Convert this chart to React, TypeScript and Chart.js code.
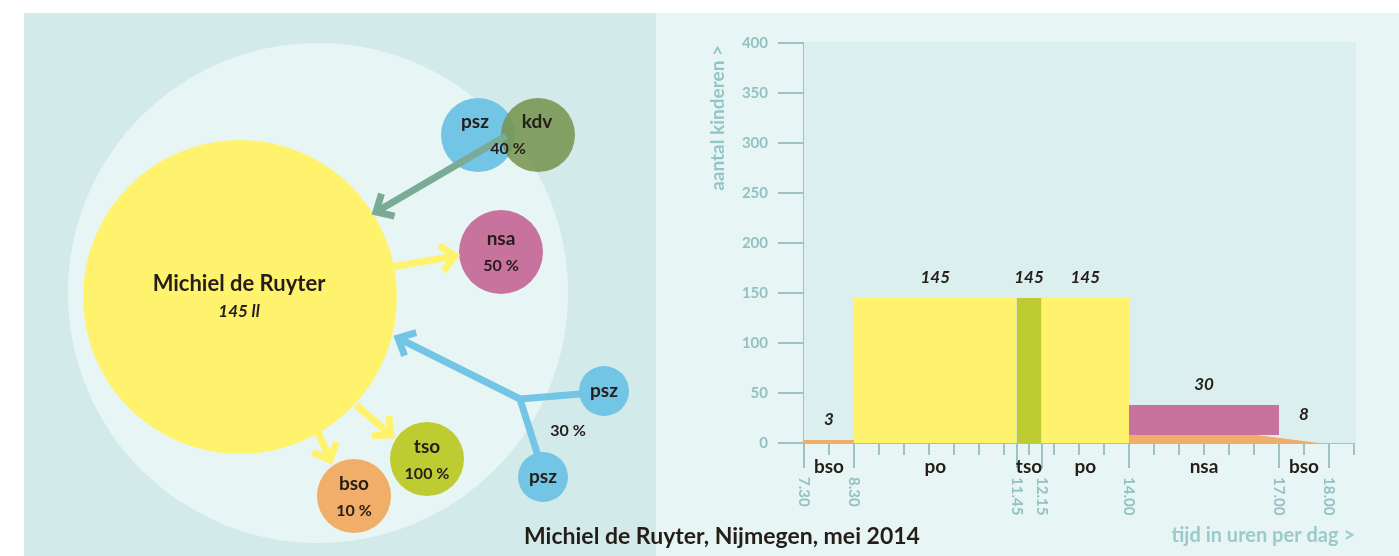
import React, { useEffect, useRef } from "react";
import { Chart, registerables } from "chart.js";
Chart.register(...registerables);

const FONT = "Lato, 'Open Sans', 'DejaVu Sans', sans-serif";
const INK = "#241d18";
const AXIS = "#9cc4c4";
const TICKTEXT = "#93c1c1";
const YELLOW = "#fff36e";
const GREEN = "#bfcc31";
const PINK = "#c8739e";
const ORANGE = "#f0ae68";
const BLUE = "#72c5e4";
const KDV = "rgba(118,148,78,0.86)";
const ARROWGREEN = "#7aab97";

// ---------- right chart data ----------
const segmentNames = ["bso", "po", "tso", "po", "nsa", "bso"];
const segmentStart = [7.5, 8.5, 11.75, 12.25, 14, 17];
const segmentEnd = [8.5, 11.75, 12.25, 14, 17, 18];
const timeTickValues = [7.5, 8.5, 11.75, 12.25, 14, 17, 18];
const timeTickLabels = ["7.30", "8.30", "11.45", "12.15", "14.00", "17.00", "18.00"];

const bsoMorningTimes = [7.5, 8.5];
const bsoMorningCounts = [3, 3];
const poMorningTimes = [8.5, 11.75];
const poMorningCounts = [145, 145];
const tsoTimes = [11.75, 12.25];
const tsoCounts = [145, 145];
const poAfternoonTimes = [12.25, 14];
const poAfternoonCounts = [145, 145];
const bsoAfternoonTimes = [14, 16.55, 17.8];
const bsoAfternoonCounts = [8, 8, 0];
const nsaTimes = [14, 17];
const nsaTop = [38, 38];
const nsaBase = 8;

const valueLabelTexts = ["3", "145", "145", "145", "30", "8"];
const valueLabelTimes = [8, 10.125, 12, 13.125, 15.5, 17.5];
const valueLabelTops = [3, 145, 145, 145, 38, 8];

// ---------- left diagram data (page pixel space) ----------
const nodeNames = ["campus", "school", "psz1", "kdv", "nsa", "pszR", "pszB", "tso", "bso"];
const nodeX = [318, 240, 478, 538, 501, 604, 543, 427, 354];
const nodeY = [293, 297, 135, 135, 252, 391, 477, 459, 496];
const nodeR = [250, 157, 37, 37, 42, 25, 25, 37, 37];
const nodeColors = ["#e8f5f5", YELLOW, BLUE, KDV, PINK, BLUE, BLUE, GREEN, ORANGE];

const linkFromX = [520, 520, 520, 506, 392, 356, 318];
const linkFromY = [399, 399, 399, 136, 267, 405, 432];
const linkToX = [580, 538, 398, 376, 455, 391, 330];
const linkToY = [394, 456, 338, 212, 256, 435, 460];
const linkColors = [BLUE, BLUE, BLUE, ARROWGREEN, YELLOW, YELLOW, YELLOW];
const linkHeads = [false, false, true, true, true, true, true];

const textLabels = ["Michiel de Ruyter", "145 ll", "psz", "kdv", "40 %", "nsa", "50 %", "psz", "psz", "30 %", "tso", "100 %", "bso", "10 %"];
const textX = [239, 239, 475, 537, 508, 501, 501, 604, 543, 568, 427, 427, 354, 354];
const textY = [284, 312, 122, 122, 149, 239, 266, 391, 477, 431, 447, 474, 484, 511];
const textStyles = ["title", "sub", "name", "name", "pct", "name", "pct", "name", "name", "pct", "name", "pct", "name", "pct"];

const pts = (xs: number[], ys: number[]) => xs.map((x, i) => ({ x, y: ys[i] }));

export default function App() {
  const leftRef = useRef<HTMLCanvasElement>(null);
  const rightRef = useRef<HTMLCanvasElement>(null);

  useEffect(() => {
    const fontFor = (s: string) =>
      s === "title" ? `bold 22px ${FONT}` : s === "sub" ? `italic bold 17px ${FONT}` : s === "name" ? `bold 19px ${FONT}` : `bold 16px ${FONT}`;

    const leftPlugin = {
      id: "diagram",
      afterDatasetsDraw(chart: any) {
        const { ctx } = chart;
        const xs = chart.scales.x;
        const ys = chart.scales.y;
        ctx.save();
        ctx.lineWidth = 7;
        ctx.lineCap = "butt";
        ctx.lineJoin = "miter";
        linkFromX.forEach((_, i) => {
          const x1 = xs.getPixelForValue(linkFromX[i]);
          const y1 = ys.getPixelForValue(linkFromY[i]);
          const x2 = xs.getPixelForValue(linkToX[i]);
          const y2 = ys.getPixelForValue(linkToY[i]);
          ctx.strokeStyle = linkColors[i];
          ctx.beginPath();
          ctx.moveTo(x1, y1);
          ctx.lineTo(x2, y2);
          ctx.stroke();
          if (linkHeads[i]) {
            const ang = Math.atan2(y1 - y2, x1 - x2);
            const L = 19;
            const spread = 0.75;
            ctx.beginPath();
            ctx.moveTo(x2 + L * Math.cos(ang + spread), y2 + L * Math.sin(ang + spread));
            ctx.lineTo(x2, y2);
            ctx.lineTo(x2 + L * Math.cos(ang - spread), y2 + L * Math.sin(ang - spread));
            ctx.stroke();
          }
        });
        ctx.fillStyle = INK;
        ctx.textAlign = "center";
        ctx.textBaseline = "middle";
        textLabels.forEach((t, i) => {
          ctx.font = fontFor(textStyles[i]);
          ctx.fillText(t, xs.getPixelForValue(textX[i]), ys.getPixelForValue(textY[i]));
        });
        ctx.restore();
      },
    };

    const left = new Chart(leftRef.current!, {
      type: "bubble",
      data: {
        labels: nodeNames,
        datasets: [
          {
            data: nodeX.map((x, i) => ({ x, y: nodeY[i], r: nodeR[i] })),
            backgroundColor: nodeColors,
            borderWidth: 0,
            clip: false as any,
          },
        ],
      },
      options: {
        responsive: false,
        animation: false,
        events: [],
        layout: { padding: 0, autoPadding: false } as any,
        plugins: { legend: { display: false }, tooltip: { enabled: false } },
        scales: {
          x: { type: "linear", display: false, min: 24, max: 656 },
          y: { type: "linear", display: false, min: 13, max: 556, reverse: true },
        },
      },
      plugins: [leftPlugin],
    });

    const rightPlugin = {
      id: "timeline",
      beforeDatasetsDraw(chart: any) {
        const { ctx, chartArea } = chart;
        ctx.save();
        ctx.fillStyle = "#dcefef";
        ctx.fillRect(chartArea.left, chartArea.top - 1, chartArea.right - chartArea.left + 2, chartArea.bottom - chartArea.top + 1);
        ctx.restore();
      },
      afterDraw(chart: any) {
        const { ctx, chartArea } = chart;
        const xs = chart.scales.x;
        const ys = chart.scales.y;
        const base = ys.getPixelForValue(0);
        ctx.save();
        ctx.strokeStyle = AXIS;
        ctx.lineWidth = 2;
        timeTickValues.forEach((v) => {
          const px = Math.round(xs.getPixelForValue(v));
          ctx.beginPath();
          ctx.moveTo(px, base);
          ctx.lineTo(px, base + 25);
          ctx.stroke();
        });
        ctx.fillStyle = TICKTEXT;
        ctx.font = `bold 15px ${FONT}`;
        ctx.textAlign = "left";
        ctx.textBaseline = "middle";
        timeTickValues.forEach((v, i) => {
          ctx.save();
          ctx.translate(xs.getPixelForValue(v), base + 34);
          ctx.rotate(Math.PI / 2);
          ctx.fillText(timeTickLabels[i], 0, 0);
          ctx.restore();
        });
        ctx.fillStyle = INK;
        ctx.font = `bold 19px ${FONT}`;
        ctx.textAlign = "center";
        segmentNames.forEach((n, i) => {
          const mid = xs.getPixelForValue((segmentStart[i] + segmentEnd[i]) / 2);
          ctx.fillText(n, mid, base + 24);
        });
        ctx.font = `italic bold 17px ${FONT}`;
        valueLabelTexts.forEach((t, i) => {
          ctx.fillText(t, xs.getPixelForValue(valueLabelTimes[i]), ys.getPixelForValue(valueLabelTops[i]) - 20);
        });
        // axis titles
        ctx.fillStyle = "#93c5c5";
        ctx.font = `bold 19px ${FONT}`;
        ctx.save();
        ctx.translate(62, chartArea.top + 2);
        ctx.rotate(-Math.PI / 2);
        ctx.textAlign = "right";
        ctx.fillText("aantal kinderen >", 0, 0);
        ctx.restore();
        ctx.fillStyle = "#9ccaca";
        ctx.font = `bold 20px ${FONT}`;
        ctx.textAlign = "right";
        ctx.fillText("tijd in uren per dag >", chartArea.right + 1, 523);
        ctx.restore();
      },
    };

    const area = (times: number[], counts: number[], color: string, fill: any) => ({
      data: pts(times, counts),
      backgroundColor: color,
      borderColor: color,
      borderWidth: 0,
      pointRadius: 0,
      tension: 0,
      fill,
    });

    const right = new Chart(rightRef.current!, {
      type: "line",
      data: {
        datasets: [
          area(bsoMorningTimes, bsoMorningCounts, ORANGE, "origin"),
          area(poMorningTimes, poMorningCounts, YELLOW, "origin"),
          area(tsoTimes, tsoCounts, GREEN, "origin"),
          area(poAfternoonTimes, poAfternoonCounts, YELLOW, "origin"),
          area(bsoAfternoonTimes, bsoAfternoonCounts, ORANGE, "origin"),
          area(nsaTimes, nsaTop, PINK, { value: nsaBase }),
        ] as any,
      },
      options: {
        responsive: false,
        animation: false,
        events: [],
        layout: { padding: { top: 30, right: 45, left: 0, bottom: 0 } },
        plugins: { legend: { display: false }, tooltip: { enabled: false } },
        scales: {
          x: {
            type: "linear",
            min: 7.5,
            max: 18.5,
            ticks: { stepSize: 0.5, display: false },
            afterBuildTicks: (scale: any) => {
              const extra = [11.75, 12.25].map((value) => ({ value }));
              scale.ticks = [...scale.ticks, ...extra].sort((a: any, b: any) => a.value - b.value);
            },
            afterFit: (scale: any) => {
              scale.height = 113;
            },
            grid: { drawOnChartArea: false, tickLength: 12, color: AXIS, lineWidth: 2 },
            border: { display: true, color: AXIS, width: 2 },
          },
          y: {
            type: "linear",
            min: 0,
            max: 400,
            ticks: { stepSize: 50, color: TICKTEXT, padding: 10, font: { family: FONT, size: 15, weight: "bold" } },
            afterFit: (scale: any) => {
              scale.width = 148;
            },
            grid: { drawOnChartArea: false, tickLength: 26, color: AXIS, lineWidth: 2 },
            border: { display: true, color: AXIS, width: 2 },
          },
        },
      },
      plugins: [rightPlugin],
    });

    return () => {
      left.destroy();
      right.destroy();
    };
  }, []);

  return (
    <div style={{ position: "absolute", left: 0, top: 0, width: 1399, height: 556, background: "#ffffff", overflow: "hidden", fontFamily: FONT }}>
      <div style={{ position: "absolute", left: 24, top: 13, width: 632, height: 543, background: "#d3eaea" }} />
      <div style={{ position: "absolute", left: 656, top: 13, width: 743, height: 543, background: "#e8f5f5" }} />
      <canvas ref={leftRef} width={632} height={543} style={{ position: "absolute", left: 24, top: 13, width: 632, height: 543 }} />
      <canvas ref={rightRef} width={743} height={543} style={{ position: "absolute", left: 656, top: 13, width: 743, height: 543 }} />
      <div
        style={{
          position: "absolute",
          left: 0,
          width: 1444,
          top: 521,
          textAlign: "center",
          fontSize: 23,
          lineHeight: "28px",
          fontWeight: "bold",
          color: INK,
          whiteSpace: "nowrap",
        }}
      >
        Michiel de Ruyter, Nijmegen, mei 2014
      </div>
    </div>
  );
}
